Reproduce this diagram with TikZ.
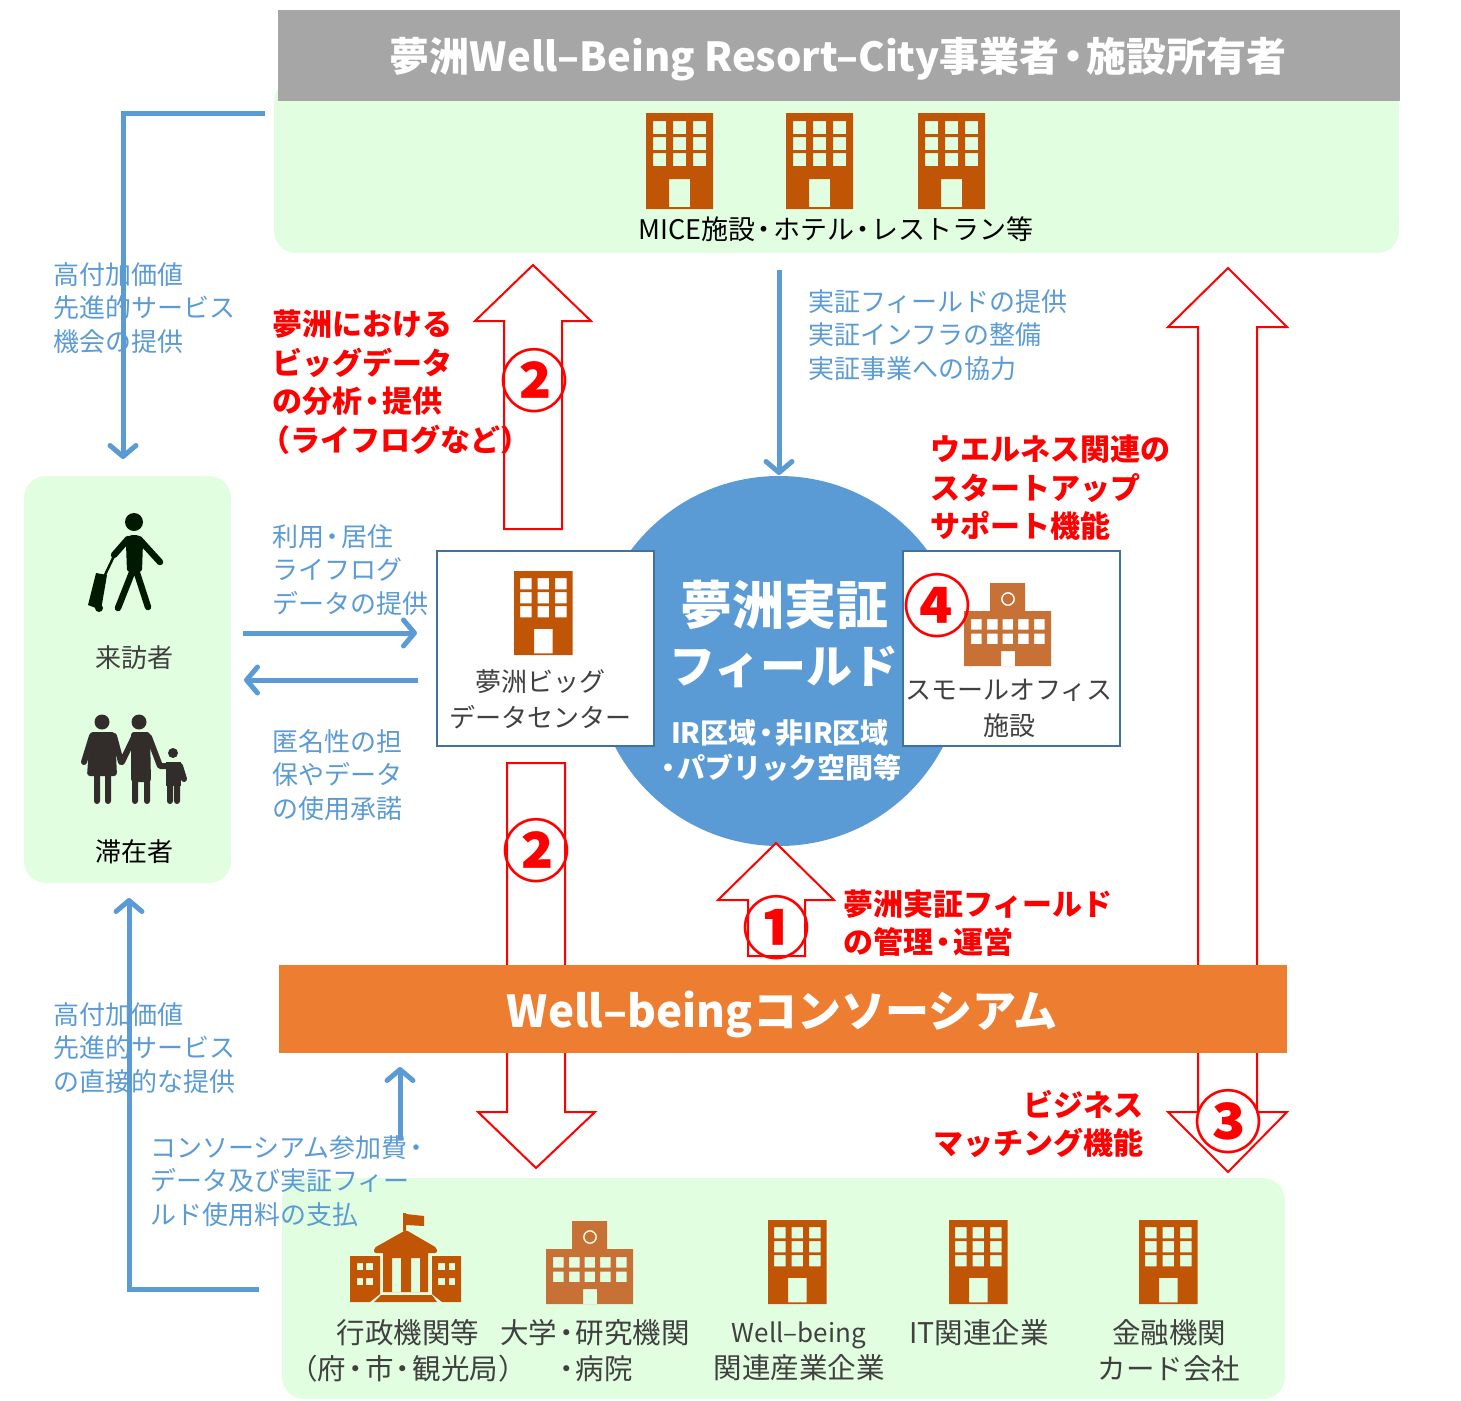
\documentclass[tikz,border=0pt]{standalone}
\usepackage{fontspec}
\setmainfont{Noto Sans CJK JP}
\usetikzlibrary{arrows.meta, positioning}
\definecolor{skyblue}{HTML}{5B9BD5}
\definecolor{palegreen}{HTML}{E2FEE0}
\definecolor{brick}{HTML}{C05505}
\definecolor{clay}{HTML}{C87137}
\definecolor{darktext}{HTML}{404040}
\definecolor{boxline}{HTML}{41719C}
\definecolor{kin}{HTML}{322D2B}
\newcommand{\dt}{\kern-.17em ・\kern-.17em}
\tikzstyle{line} = [draw=skyblue, line width=5pt, -{Straight Barb[length=11pt,width=26pt,round]}]
\tikzstyle{panel} = [fill=palegreen, rounded corners=22pt]
\tikzstyle{block} = [draw=boxline, line width=2pt, fill=white]
\tikzstyle{bigarrow} = [draw=red, line width=2pt, fill=white]
\tikzstyle{bluetext} = [text=skyblue, align=left, anchor=west, inner sep=0pt, font=\fontsize{26}{33.6}\selectfont]
\tikzstyle{redtext} = [text=red, align=left, anchor=west, inner sep=0pt, font=\bfseries\fontsize{30}{38.5}\selectfont]
\tikzstyle{label} = [text=darktext, align=center, inner sep=0pt, font=\fontsize{26}{36}\selectfont]
\tikzstyle{lowlabel} = [label, font=\fontsize{28.5}{36}\selectfont]
\tikzstyle{number} = [text=red, inner sep=0pt, font=\bfseries\fontsize{68}{68}\selectfont]
\tikzstyle{whitetext} = [text=white, align=center, inner sep=0pt]
\tikzset{
  building/.pic={
    \fill [brick, even odd rule] (0,0) rectangle (67,96)
      (23,66) rectangle (44,94)
      \foreach \wx in {7,27,47} {\foreach \wy in {8,24,40} {(\wx,\wy) rectangle ++(13,13)}};
  },
  hospital/.pic={
    \fill [clay, even odd rule] (26,0) -- (61,0) -- (61,28) -- (87,28) -- (87,83) -- (0,83) -- (0,28) -- (26,28) -- cycle
      (37,68) rectangle (51,83)
      (44,16) circle (7) (44,16) circle (5.5)
      \foreach \wx in {7,23,38.5,54,70} {\foreach \wy in {36,50.5} {(\wx,\wy) rectangle ++(10.5,10.5)}};
    \fill [clay] (43.2,12) rectangle (44.8,20) (40,15.2) rectangle (48,16.8);
  },
  school/.pic={
    \fill [brick, even odd rule] (0,43) -- (30,43) -- (30,81) -- (20,89) -- (0,89) -- cycle
      (7,50) rectangle (13,57) (16,50) rectangle (23,57) (7,65) rectangle (13,72) (16,65) rectangle (23,72);
    \fill [brick, even odd rule] (111,43) -- (82,43) -- (82,81) -- (92,89) -- (111,89) -- cycle
      (88,50) rectangle (95,57) (99,50) rectangle (105,57) (88,65) rectangle (95,72) (99,65) rectangle (105,72);
    \fill [brick, even odd rule] (33,40) -- (78,40) -- (78,79) -- (33,79) -- cycle
      (42,45) rectangle (51,79) (61,45) rectangle (70,79);
    \fill [brick, rounded corners=2pt] (56,17) -- (87,35) -- (87,40) -- (24,40) -- (24,35) -- cycle;
    \fill [brick] (24,89) -- (31,82) -- (82,82) -- (87,89) -- cycle;
    \fill [brick] (53,0) rectangle (56,18) (56,1) -- (74,3) -- (74,13) -- (56,12) -- cycle;
  },
  walker/.pic={
    \fill [black!90!green] (0,0) circle (9);
    \fill [black!90!green, rounded corners=3pt] (-5,13) -- (5,13) -- (9,20) -- (8,50) -- (-7,50) -- (-8,22) -- cycle;
    \draw [black!90!green, line width=6.5pt, line cap=round, line join=round] (5,17) -- (26,40)
      (-6,17) -- (-20,33) (-1,48) -- (-16,86) (2,48) -- (14,85);
    \draw [black!90!green, line width=2.5pt] (-20,34) -- (-30,55);
    \fill [black!90!green] (-38,51) -- (-27,53) -- (-33,88) -- (-46,83) -- cycle;
    \fill [black!90!green] (-35,86) circle (4);
  },
  family/.pic={
    \fill [kin] (0,0) circle (7.5) (37,0) circle (7.5) (71,31) circle (5);
    \fill [kin, rounded corners=3pt] (-12,10) -- (13,10) -- (15,54) -- (-15,54) -- cycle;
    \draw [kin, line width=6pt, line cap=round, line join=round] (-10,14) -- (-18,40) (12,14) -- (19,40)
      (-5,54) -- (-5,79) (6,54) -- (6,79)
      (32,15) -- (20,40) (33,54) -- (33,79) (45,54) -- (45,79) (47,15) -- (58,44) -- (78,44) -- (82,57) (68,62) -- (68,79) (75,62) -- (75,79);
    \fill [kin, rounded corners=3pt] (29,10) -- (48,10) -- (49,60) -- (29,60) -- cycle;
    \fill [kin] (64,40) rectangle (79,64);
  }
}
\begin{document}
\begin{tikzpicture}[x=1pt, y=-1pt]
\useasboundingbox (0,0) rectangle (1461,1400);
% panels
\fill [panel] (274,80) rectangle (1399,253);
\fill [panel] (24,476) rectangle (231,883);
\fill [panel] (282,1178) rectangle (1285,1399);
\fill [black!35] (278,10) rectangle (1400,101);
\node [whitetext, font=\fontsize{40}{40}\selectfont\bfseries] (owners) at (838,59) {夢洲Well–Being Resort–City事業者\dt 施設所有者};
% icons
\pic at (646,113) {building};
\pic at (786,113) {building};
\pic at (918,113) {building};
\pic at (134,522) {walker};
\pic at (102,722) {family};
\pic at (350,1213) {school};
\pic at (546,1221) {hospital};
\pic [scale=.875] at (768,1220) {building};
\pic [scale=.875] at (949,1220) {building};
\pic [scale=.875] at (1139,1220) {building};
% connector ends
\coordinate (fieldsout) at (265,113);
\coordinate (fieldscorner) at (123,113);
\coordinate (visitorsin) at (123,459);
\coordinate (fieldsdown) at (779,270);
\coordinate (circlein) at (779,475);
\coordinate (logstart) at (243,633);
\coordinate (logend) at (417,633);
\coordinate (consentstart) at (418,680);
\coordinate (consentend) at (244,680);
\coordinate (partnersout) at (259,1289);
\coordinate (partnerscorner) at (129,1289);
\coordinate (visitorsup) at (129,898);
\coordinate (feestart) at (400,1140);
\coordinate (feeend) at (400,1067);
\draw [line] (fieldsout) -- (fieldscorner) -- (visitorsin);
\draw [line] (fieldsdown) -- (circlein);
\draw [line] (logstart) -- (logend);
\draw [line] (consentstart) -- (consentend);
\draw [line] (partnersout) -- (partnerscorner) -- (visitorsup);
\draw [line] (feestart) -- (feeend);
% field circle and boxes
\fill [skyblue] (779,661) circle (185);
\draw [block] (437,551) rectangle (654,746);
\draw [block] (903,551) rectangle (1120,746);
\pic [scale=.875] at (514,571) {building};
\pic at (964,583) {hospital};
% red arrows
\draw [bigarrow] (533,265) -- (591,321) -- (562,321) -- (562,529) -- (504,529) -- (504,321) -- (475,321) -- cycle;
\draw [bigarrow] (507,763) -- (565,763) -- (565,1112) -- (595,1112) -- (536,1168) -- (478,1112) -- (507,1112) -- cycle;
\draw [bigarrow] (776,843) -- (834,900) -- (805,900) -- (805,956) -- (748,956) -- (748,900) -- (718,900) -- cycle;
\draw [bigarrow] (1228,268) -- (1287,327) -- (1257,327) -- (1257,1112) -- (1287,1112) -- (1228,1172) -- (1168,1112) -- (1198,1112) -- (1198,327) -- (1168,327) -- cycle;
\fill [orange!0!white, fill={rgb,255:red,237;green,125;blue,49}] (279,965) rectangle (1287,1053);
\node [whitetext, font=\fontsize{44}{44}\selectfont\bfseries] (consortium) at (782,1014) {Well–beingコンソーシアム};
% field texts
\node [whitetext, font=\bfseries\fontsize{52}{52}\selectfont] (fieldtitle) at (784,605) {夢洲実証};
\node [whitetext, font=\bfseries\fontsize{46}{46}\selectfont] (fieldname) at (784,667) {フィールド};
\node [whitetext, font=\bfseries\fontsize{28}{35}\selectfont] (fieldarea) at (780,750) {IR区域\dt 非IR区域\\\dt パブリック空間等};
% labels
\node [text=black, inner sep=0pt, font=\fontsize{27}{27}\selectfont] (facilities) at (836,229) {MICE施設\dt ホテル\dt レストラン等};
\node [label] (visitors) at (134,658) {来訪者};
\node [label, text=black] (residents) at (134,852) {滞在者};
\node [label] (datacenter) at (540,699) {夢洲ビッグ\\データセンター};
\node [label] (smalloffice) at (1009,708) {スモールオフィス\\施設};
\node [lowlabel] (government) at (408,1351) {行政機関等\\\kern-.4em（府\dt 市\dt 観光局）\kern-.4em};
\node [lowlabel] (university) at (595,1351) {大学\dt 研究機関\\\dt 病院};
\node [lowlabel] (industry) at (799,1351) {{\fontsize{26}{36}\selectfont Well–being}\\関連産業企業};
\node [lowlabel] (itfirms) at (979,1333) {IT関連企業};
\node [lowlabel] (finance) at (1169,1351) {金融機関\\カード会社};
% blue notes
\node [bluetext] (addedtop) at (53,308) {高付加価値\\先進的サービス\\機会の提供};
\node [bluetext] (support) at (808,335) {実証フィールドの提供\\実証インフラの整備\\実証事業への協力};
\node [bluetext] (usedata) at (272,570) {利用\dt 居住\\ライフログ\\データの提供};
\node [bluetext] (anonymity) at (272,775) {匿名性の担\\保やデータ\\の使用承諾};
\node [bluetext] (addedlow) at (53,1048) {高付加価値\\先進的サービス\\の直接的な提供};
\node [bluetext] (fees) at (150,1181) {コンソーシアム参加費\dt\\データ及び実証フィー\\ルド使用料の支払};
% red notes
\node [redtext] (bigdata) at (272,382) {夢洲における\\ビッグデータ\\の分析\dt 提供\\\kern-.4em（ライフログなど）};
\node [redtext] (wellness) at (930,488) {ウエルネス関連の\\スタートアップ\\サポート機能};
\node [redtext] (manage) at (843,923) {夢洲実証フィールド\\の管理\dt 運営};
\node [redtext, align=right, anchor=east] (matching) at (1144,1124) {ビジネス\\マッチング機能};
\node [number] (numone) at (776,928) {①};
\node [number] (numtwoup) at (534,381) {②};
\node [number] (numtwodown) at (536,851) {②};
\node [number] (numthree) at (1228,1122) {③};
\node [number] (numfour) at (937,606) {④};
\end{tikzpicture}
\end{document}
